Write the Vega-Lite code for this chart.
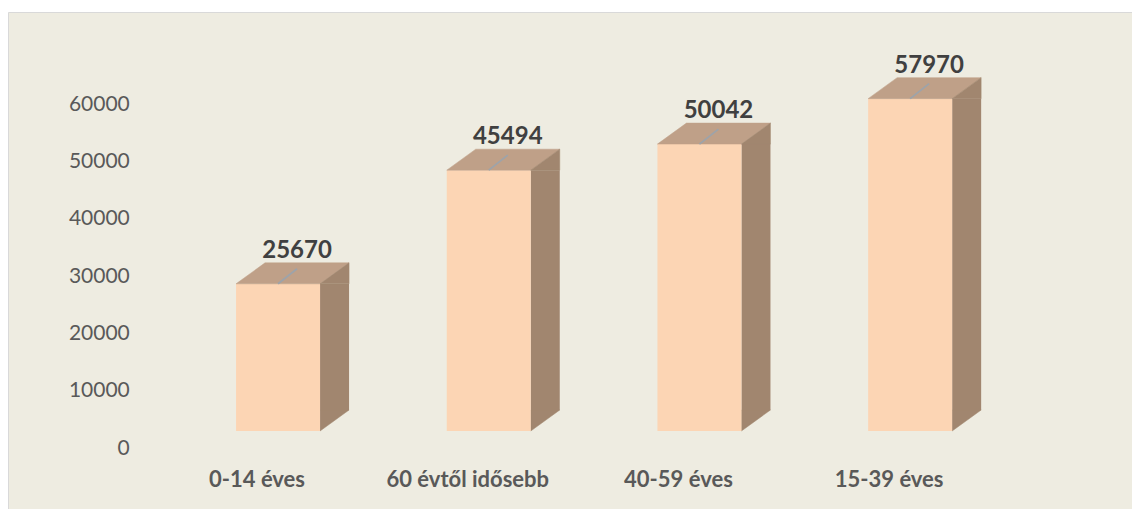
{
  "$schema": "https://vega.github.io/schema/vega-lite/v6.json",
  "autosize": {"type": "none"},
  "padding": {"left": 8, "top": 12, "right": 0, "bottom": 0},
  "width": 1130,
  "height": 505,
  "background": "#FFFFFF",
  "config": {
    "view": {"fill": "#EEECE1", "stroke": "#D9D9D9", "strokeWidth": 1},
    "font": "Lato"
  },
  "data": {
    "values": [
      {"cat": "0-14 éves", "v": 25670},
      {"cat": "60 évtől idősebb", "v": 45494},
      {"cat": "40-59 éves", "v": 50042},
      {"cat": "15-39 éves", "v": 57970}
    ]
  },
  "encoding": {
    "x": {
      "field": "cat", "type": "nominal", "sort": null,
      "scale": {"type": "band", "range": [164.7, 1007.5], "paddingInner": 0, "paddingOuter": 0},
      "axis": {
        "orient": "bottom", "domain": false, "ticks": false, "tickSize": 0, "grid": false,
        "labelOffset": -21, "labelPadding": 0, "labelBaseline": "alphabetic", "offset": -30.3,
        "labelFont": "Lato", "labelFontSize": 22, "labelFontWeight": "bold", "labelColor": "#595959",
        "labelAngle": 0, "title": null
      }
    },
    "y": {
      "field": "v", "type": "quantitative",
      "scale": {"domain": [0, 60000], "range": [436, 92], "nice": false, "zero": true},
      "axis": {
        "orient": "left", "values": [0, 10000, 20000, 30000, 40000, 50000, 60000], "format": "d",
        "domain": false, "ticks": false, "tickSize": 0, "grid": false,
        "labelPadding": 0, "offset": -121.3, "labelBaseline": "middle",
        "labelFont": "Lato", "labelFontSize": 21, "labelColor": "#595959", "title": null
      }
    }
  },
  "layer": [
    {
      "mark": {"type": "point", "shape": "M42,-17L42,-38L71,-38Z", "size": 4, "filled": true, "fill": "#A1866F", "stroke": "#A1866F", "strokeWidth": 0.5, "opacity": 1},
      "encoding": {"y": {"datum": 0, "type": "quantitative"}}
    },
    {
      "mark": {"type": "bar", "width": 29, "xOffset": 56.5, "yOffset": -17, "y2Offset": -38, "fill": "#A1866F"},
      "encoding": {"y2": {"datum": 0}}
    },
    {
      "mark": {"type": "bar", "width": 84, "yOffset": -17, "y2Offset": -17, "fill": "#FCD5B4"},
      "encoding": {"y2": {"datum": 0}}
    },
    {
      "mark": {"type": "point", "shape": "M-42,-17L42,-17L71,-38L-13,-38Z", "size": 4, "filled": true, "fill": "#BFA088", "stroke": "#BFA088", "strokeWidth": 0.5, "opacity": 1}
    },
    {
      "mark": {"type": "point", "shape": "M42,-17L71,-38L71,-17Z", "size": 4, "filled": true, "fill": "#A1866F", "stroke": "#A1866F", "strokeWidth": 0.5, "opacity": 1}
    },
    {
      "mark": {"type": "point", "shape": "M0,-17L19,-32", "size": 4, "filled": false, "stroke": "#9DA3AA", "strokeWidth": 1.8, "opacity": 1}
    },
    {
      "mark": {"type": "text", "dx": 19, "dy": -43, "baseline": "alphabetic", "align": "center", "font": "Lato", "fontSize": 24, "fontWeight": "bold", "color": "#404040"},
      "encoding": {"text": {"field": "v", "type": "quantitative", "format": "d"}}
    }
  ]
}
